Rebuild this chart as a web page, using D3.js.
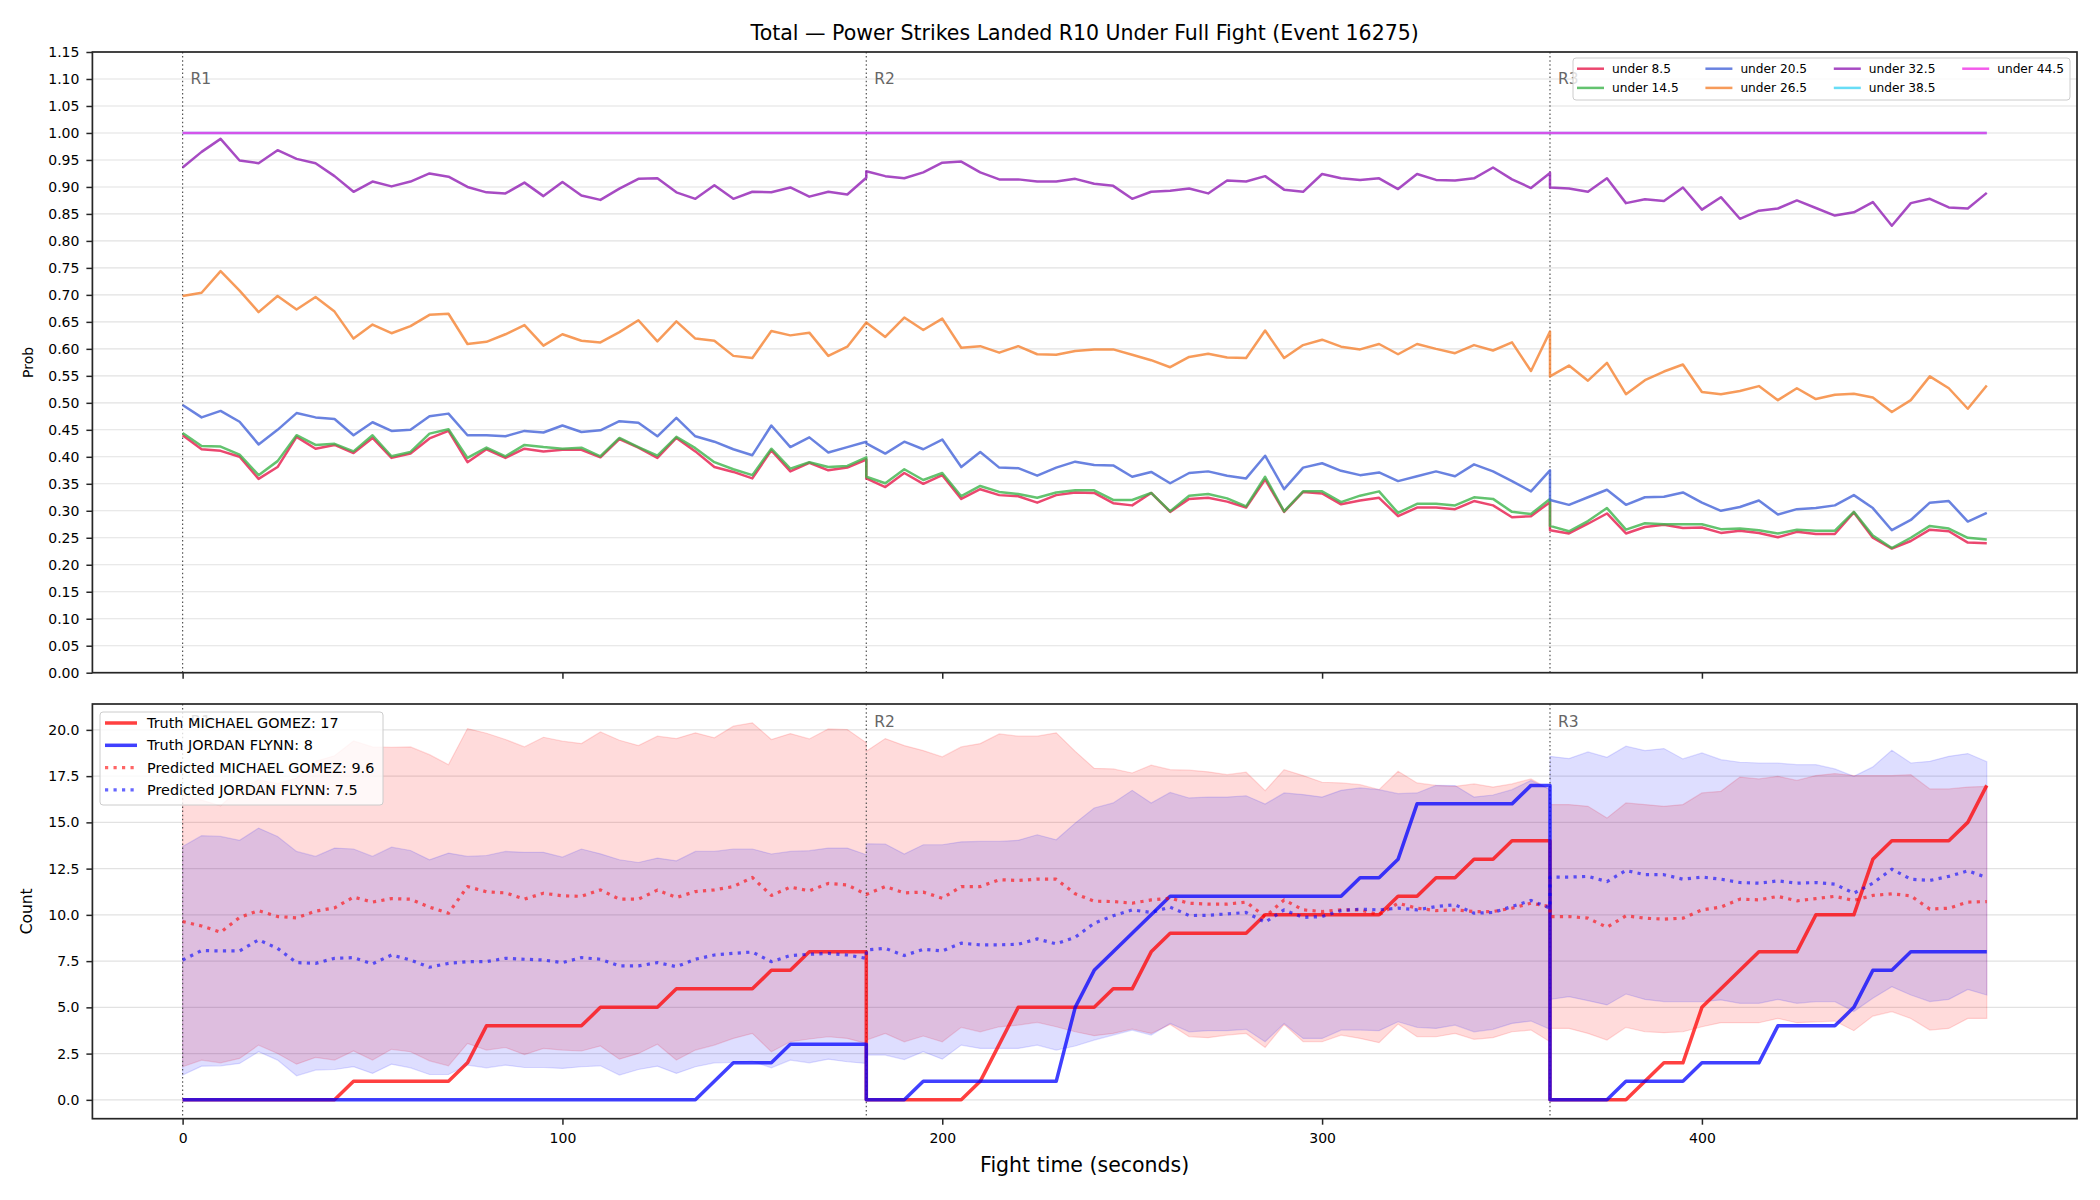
<!DOCTYPE html>
<html>
<head>
<meta charset="utf-8">
<script src="https://cdn.jsdelivr.net/npm/d3@7"></script>
<style>
  body { margin: 0; background: #fff; }
  svg text { font-family: "DejaVu Sans", sans-serif; }
</style>
</head>
<body>
<div class="chart"></div>
<script>
// fight time of every sample (each round restarts at its boundary, so 180 and 360 appear twice)
const times = [
  0,5,10,15,20,25,30,35,40,45,50,55,60,65,70,75,80,85,90,95,100,105,110,115,120,125,130,135,140,145,150,155,160,165,170,175,180,
  180,185,190,195,200,205,210,215,220,225,230,235,240,245,250,255,260,265,270,275,280,285,290,295,300,305,310,315,320,325,330,335,340,345,350,355,360,
  360,365,370,375,380,385,390,395,400,405,410,415,420,425,430,435,440,445,450,455,460,465,470,475
];

// top panel: probability of total under each line
const under85 = [
  0.440,0.414,0.411,0.400,0.359,0.381,0.437,0.415,0.422,0.407,0.435,0.398,0.406,0.434,0.448,0.390,0.414,0.398,0.415,0.410,0.413,0.413,0.399,0.433,0.417,0.398,0.435,0.410,0.381,0.372,0.360,0.412,0.373,0.389,0.375,0.380,0.395,
  0.360,0.344,0.370,0.350,0.366,0.322,0.340,0.329,0.327,0.315,0.329,0.334,0.333,0.314,0.310,0.333,0.298,0.322,0.324,0.317,0.306,0.358,0.298,0.335,0.332,0.312,0.319,0.324,0.290,0.306,0.306,0.303,0.318,0.310,0.288,0.290,0.316,
  0.264,0.258,0.276,0.295,0.258,0.270,0.274,0.268,0.269,0.259,0.263,0.259,0.251,0.261,0.257,0.257,0.297,0.250,0.230,0.244,0.265,0.262,0.241,0.240
];
const under145 = [
  0.444,0.420,0.419,0.404,0.366,0.392,0.440,0.422,0.424,0.410,0.440,0.401,0.409,0.443,0.451,0.398,0.417,0.401,0.422,0.418,0.415,0.417,0.401,0.435,0.418,0.402,0.437,0.416,0.390,0.377,0.366,0.415,0.378,0.390,0.381,0.383,0.399,
  0.363,0.351,0.377,0.357,0.370,0.327,0.346,0.335,0.331,0.324,0.334,0.338,0.338,0.320,0.320,0.333,0.299,0.328,0.331,0.323,0.308,0.363,0.299,0.336,0.336,0.316,0.328,0.336,0.296,0.313,0.313,0.310,0.325,0.322,0.298,0.294,0.322,
  0.272,0.262,0.281,0.305,0.265,0.277,0.275,0.275,0.275,0.266,0.267,0.264,0.258,0.265,0.263,0.263,0.298,0.254,0.231,0.250,0.272,0.267,0.250,0.247
];
const under205 = [
  0.496,0.473,0.485,0.465,0.423,0.450,0.481,0.473,0.470,0.440,0.464,0.448,0.450,0.475,0.480,0.440,0.440,0.438,0.448,0.445,0.458,0.446,0.449,0.466,0.463,0.438,0.472,0.438,0.428,0.414,0.403,0.458,0.418,0.436,0.408,0.418,0.428,
  0.425,0.406,0.428,0.414,0.432,0.381,0.409,0.380,0.379,0.365,0.380,0.391,0.385,0.384,0.363,0.372,0.351,0.370,0.373,0.365,0.360,0.402,0.340,0.380,0.388,0.374,0.366,0.371,0.355,0.364,0.373,0.364,0.386,0.373,0.355,0.336,0.375,
  0.320,0.311,0.325,0.339,0.311,0.325,0.326,0.334,0.315,0.300,0.307,0.319,0.293,0.303,0.305,0.310,0.329,0.305,0.264,0.283,0.315,0.318,0.280,0.296
];
const under265 = [
  0.698,0.704,0.744,0.708,0.668,0.698,0.673,0.696,0.669,0.619,0.645,0.629,0.642,0.663,0.665,0.609,0.613,0.627,0.644,0.606,0.627,0.615,0.612,0.631,0.653,0.614,0.651,0.619,0.615,0.587,0.583,0.633,0.625,0.630,0.587,0.604,0.649,
  0.649,0.622,0.658,0.635,0.656,0.602,0.605,0.593,0.605,0.590,0.589,0.596,0.599,0.599,0.589,0.579,0.566,0.585,0.591,0.584,0.583,0.634,0.583,0.607,0.617,0.604,0.599,0.609,0.590,0.609,0.600,0.592,0.607,0.597,0.612,0.559,0.632,
  0.549,0.569,0.541,0.574,0.516,0.542,0.558,0.571,0.520,0.516,0.522,0.531,0.505,0.527,0.507,0.515,0.517,0.510,0.483,0.505,0.549,0.527,0.489,0.532
];
const under325 = [
  0.936,0.965,0.989,0.949,0.944,0.968,0.952,0.944,0.920,0.891,0.910,0.901,0.910,0.925,0.919,0.900,0.890,0.888,0.908,0.883,0.909,0.884,0.876,0.897,0.915,0.916,0.890,0.878,0.903,0.878,0.891,0.890,0.899,0.882,0.891,0.886,0.917,
  0.929,0.920,0.916,0.927,0.945,0.947,0.927,0.914,0.914,0.910,0.910,0.915,0.906,0.902,0.878,0.891,0.893,0.897,0.888,0.912,0.910,0.920,0.895,0.891,0.924,0.916,0.913,0.916,0.896,0.924,0.913,0.912,0.916,0.936,0.914,0.898,0.926,
  0.899,0.897,0.891,0.916,0.870,0.877,0.874,0.899,0.858,0.881,0.841,0.856,0.860,0.875,0.861,0.847,0.853,0.872,0.828,0.870,0.878,0.862,0.860,0.889
];
const under385 = [
  1,1,1,1,1,1,1,1,1,1,1,1,1,1,1,1,1,1,1,1,1,1,1,1,1,1,1,1,1,1,1,1,1,1,1,1,1,
  1,1,1,1,1,1,1,1,1,1,1,1,1,1,1,1,1,1,1,1,1,1,1,1,1,1,1,1,1,1,1,1,1,1,1,1,1,
  1,1,1,1,1,1,1,1,1,1,1,1,1,1,1,1,1,1,1,1,1,1,1,1
];
const under445 = [
  1,1,1,1,1,1,1,1,1,1,1,1,1,1,1,1,1,1,1,1,1,1,1,1,1,1,1,1,1,1,1,1,1,1,1,1,1,
  1,1,1,1,1,1,1,1,1,1,1,1,1,1,1,1,1,1,1,1,1,1,1,1,1,1,1,1,1,1,1,1,1,1,1,1,1,
  1,1,1,1,1,1,1,1,1,1,1,1,1,1,1,1,1,1,1,1,1,1,1,1
];
const probNames = ["under 8.5", "under 14.5", "under 20.5", "under 26.5", "under 32.5", "under 38.5", "under 44.5"];

// bottom panel: counts per fighter
const truthGomez = [
  0,0,0,0,0,0,0,0,0,1,1,1,1,1,1,2,4,4,4,4,4,4,5,5,5,5,6,6,6,6,6,7,7,8,8,8,8,
  0,0,0,0,0,0,1,3,5,5,5,5,5,6,6,8,9,9,9,9,9,10,10,10,10,10,10,10,11,11,12,12,13,13,14,14,14,
  0,0,0,0,0,1,2,2,5,6,7,8,8,8,10,10,10,13,14,14,14,14,15,17
];
const truthFlynn = [
  0,0,0,0,0,0,0,0,0,0,0,0,0,0,0,0,0,0,0,0,0,0,0,0,0,0,0,0,1,2,2,2,3,3,3,3,3,
  0,0,0,1,1,1,1,1,1,1,1,5,7,8,9,10,11,11,11,11,11,11,11,11,11,11,12,12,13,16,16,16,16,16,16,17,17,
  0,0,0,0,1,1,1,1,2,2,2,2,4,4,4,4,5,7,7,8,8,8,8,8
];
const predGomez = [
  9.64,9.40,9.06,9.86,10.23,9.91,9.84,10.20,10.38,10.96,10.69,10.88,10.85,10.42,10.09,11.53,11.25,11.19,10.85,11.17,11.03,11.00,11.35,10.85,10.85,11.34,10.94,11.26,11.35,11.53,12.02,11.05,11.50,11.30,11.70,11.62,11.10,
  11.10,11.53,11.19,11.23,10.90,11.53,11.53,11.90,11.86,11.93,11.93,11.14,10.74,10.72,10.63,10.81,10.90,10.63,10.58,10.58,10.69,9.90,10.81,10.27,10.18,10.27,10.27,10.00,10.63,10.36,10.23,10.27,10.18,10.18,10.36,10.63,10.45,
  9.91,9.91,9.82,9.33,9.95,9.82,9.77,9.82,10.27,10.42,10.85,10.81,11.00,10.76,10.88,11.00,10.78,11.05,11.14,11.03,10.31,10.36,10.69,10.72
];
const predFlynn = [
  7.56,8.07,8.05,8.05,8.65,8.19,7.42,7.38,7.65,7.69,7.35,7.83,7.56,7.17,7.38,7.47,7.47,7.65,7.60,7.56,7.42,7.69,7.60,7.24,7.24,7.42,7.20,7.60,7.83,7.92,7.99,7.47,7.80,7.87,7.92,7.83,7.65,
  8.10,8.19,7.80,8.14,8.05,8.47,8.38,8.38,8.41,8.70,8.43,8.79,9.55,9.95,10.27,10.13,10.42,9.96,9.98,10.05,10.13,9.60,10.27,9.86,9.91,10.23,10.31,10.27,10.36,10.27,10.45,10.54,10.09,10.13,10.45,10.78,10.36,
  12.04,12.04,12.08,11.80,12.40,12.17,12.17,11.93,12.04,11.93,11.75,11.71,11.84,11.71,11.75,11.66,11.17,11.71,12.47,11.93,11.86,12.08,12.38,12.02
];
const gomezHigh = [
  16.5,16.2,15.9,16.8,17.3,17.1,17.4,18.3,18.6,19.4,19.08,19.06,19.08,18.66,18.12,20.07,19.82,19.48,19.08,19.60,19.39,19.26,19.89,19.44,19.15,19.66,19.53,19.84,19.57,20.20,20.38,19.48,19.80,19.51,20.05,20.02,19.30,
  18.84,19.53,19.15,18.88,18.54,19.08,19.26,19.78,19.66,19.66,19.84,18.84,17.92,17.89,17.67,18.09,17.85,17.82,17.73,17.58,17.71,16.71,17.85,17.53,17.17,17.13,17.04,16.77,17.76,17.13,17.00,16.95,17.08,16.91,17.08,17.35,16.77,
  15.96,15.96,15.87,15.23,16.05,15.96,15.87,15.96,16.59,16.68,17.45,17.35,17.49,17.27,17.53,17.64,17.53,17.53,17.53,17.58,16.81,16.81,16.91,16.95
];
const gomezLow = [
  1.79,2.15,2.00,2.24,2.96,2.51,1.93,2.29,2.15,2.64,2.15,2.73,2.60,2.11,1.84,3.05,2.69,2.83,2.45,2.78,2.69,2.64,2.91,2.20,2.51,3.01,2.15,2.69,2.96,3.32,3.59,2.60,3.14,3.29,3.41,3.32,3.05,
  3.23,3.59,3.14,3.45,3.14,3.92,3.68,3.95,4.04,4.19,3.95,3.68,3.47,3.59,3.83,3.59,4.08,3.41,3.36,3.50,3.59,2.83,4.08,3.14,3.14,3.50,3.32,3.09,4.10,3.41,3.41,3.59,3.27,3.36,3.68,3.77,3.14,
  3.86,3.86,3.59,3.23,3.92,3.68,3.63,3.68,3.95,4.17,4.17,4.17,4.40,4.17,4.22,4.26,3.74,4.53,4.77,4.40,3.77,3.86,4.40,4.40
];
const flynnHigh = [
  13.70,14.28,14.24,14.03,14.69,14.24,13.43,13.16,13.61,13.56,13.16,13.66,13.48,12.98,13.34,13.16,13.21,13.43,13.38,13.38,13.12,13.56,13.30,12.98,12.83,13.07,12.92,13.43,13.43,13.56,13.56,13.29,13.43,13.47,13.61,13.61,13.25,
  13.84,13.83,13.29,13.79,13.79,13.95,13.97,13.97,14.03,14.33,14.06,14.96,15.78,16.05,16.73,16.05,16.62,16.32,16.37,16.37,16.44,15.99,16.59,16.50,16.37,16.73,16.86,16.77,16.55,16.59,17.00,16.99,16.37,16.48,16.77,17.27,16.77,
  18.57,18.45,18.81,18.52,19.12,18.88,18.99,18.43,18.75,18.39,18.25,18.21,18.20,18.12,18.12,17.89,17.49,18.00,18.90,18.21,18.30,18.57,18.72,18.28
];
const flynnLow = [
  1.34,1.82,1.84,1.97,2.60,2.15,1.30,1.61,1.64,1.79,1.43,1.93,1.73,1.37,1.37,1.88,1.73,1.88,1.75,1.75,1.70,1.79,1.84,1.34,1.64,1.82,1.43,1.79,2.00,2.02,2.09,1.73,2.15,2.00,2.20,2.06,1.97,
  2.42,2.42,2.18,2.60,2.20,2.96,2.78,2.78,2.78,2.96,2.69,2.91,3.23,3.50,3.77,3.50,4.13,3.68,3.74,3.74,3.81,3.14,4.13,3.32,3.32,3.77,3.77,3.74,4.22,3.92,3.86,4.04,3.68,3.81,4.13,4.26,3.81,
  5.43,5.58,5.36,5.13,5.72,5.43,5.31,5.31,5.31,5.40,5.22,5.22,5.43,5.22,5.31,5.31,4.77,5.49,6.12,5.67,5.31,5.43,5.97,5.67
];

const rounds = ["R1", "R2", "R3"];
const roundStarts = [0, 180, 360];
const timeTicks = [0, 100, 200, 300, 400];
const probTicks = [0, 0.05, 0.1, 0.15, 0.2, 0.25, 0.3, 0.35, 0.4, 0.45, 0.5, 0.55, 0.6, 0.65, 0.7, 0.75, 0.8, 0.85, 0.9, 0.95, 1.0, 1.05, 1.1, 1.15];
const countTicks = [0, 2.5, 5, 7.5, 10, 12.5, 15, 17.5, 20];
const countLegend = ["Truth MICHAEL GOMEZ: 17", "Truth JORDAN FLYNN: 8", "Predicted MICHAEL GOMEZ: 9.6", "Predicted JORDAN FLYNN: 7.5"];

const width = 2100, height = 1200;
const left = 92.4, right = 2077;
const topBox = {y0: 52, y1: 672.7};
const botBox = {y0: 704, y1: 1118.7};
const ink = "#262626";

const svg = d3.select(".chart").append("svg")
  .attr("width", width).attr("height", height)
  .style("background", "#fff");

// shared x scale with matplotlib style 5% margins
const tExt = d3.extent(times);
const tPad = (tExt[1] - tExt[0]) * 0.05;
const x = d3.scaleLinear().domain([tExt[0] - tPad, tExt[1] + tPad]).range([left, right]);

const yProb = d3.scaleLinear().domain([0, 1.15]).range([topBox.y1, topBox.y0]);

const cMin = d3.min([truthGomez, truthFlynn, gomezLow, flynnLow].flat());
const cMax = d3.max([gomezHigh, flynnHigh, truthGomez, truthFlynn].flat());
const cPad = (cMax - cMin) * 0.05;
const yCount = d3.scaleLinear().domain([cMin - cPad, cMax + cPad]).range([botBox.y1, botBox.y0]);

function grid(g, y, ticks){
  g.append("g").selectAll("line").data(ticks).join("line")
    .attr("x1", left).attr("x2", right)
    .attr("y1", d => y(d)).attr("y2", d => y(d))
    .attr("stroke", "#e2e2e2").attr("stroke-width", 1.1);
}

function roundLines(g, box, y){
  g.append("g").selectAll("line").data(roundStarts).join("line")
    .attr("x1", d => x(d)).attr("x2", d => x(d))
    .attr("y1", box.y0).attr("y2", box.y1)
    .attr("stroke", "#555").attr("stroke-width", 1.2)
    .attr("stroke-dasharray", "1.5,2.6");
}

function roundLabels(g, box, y){
  const yv = y.domain()[1] - (y.domain()[1] - y.domain()[0]) * 0.044;
  g.append("g").selectAll("text").data(rounds).join("text")
    .attr("x", (d, i) => x(roundStarts[i]) + 8)
    .attr("y", y(yv))
    .attr("dominant-baseline", "central")
    .attr("font-size", "15.5px")
    .attr("fill", "#666")
    .text(d => d);
}

function axes(g, box, y, ticks, fmt, showX){
  const ya = g.append("g").attr("transform", `translate(${left},0)`)
    .call(d3.axisLeft(y).tickValues(ticks).tickFormat(fmt).tickSize(6).tickPadding(7));
  const xa = g.append("g").attr("transform", `translate(0,${box.y1})`)
    .call(d3.axisBottom(x).tickValues(timeTicks).tickFormat(showX ? d3.format("d") : () => "").tickSize(6).tickPadding(8));
  [ya, xa].forEach(a => {
    a.select(".domain").remove();
    a.selectAll(".tick line").attr("stroke", ink).attr("stroke-width", 1.5);
    a.selectAll(".tick text").attr("fill", "#000").attr("font-size", "14px")
      .style("font-family", "DejaVu Sans");
  });
  g.append("rect").attr("x", left).attr("y", box.y0)
    .attr("width", right - left).attr("height", box.y1 - box.y0)
    .attr("fill", "none").attr("stroke", ink).attr("stroke-width", 1.7);
}

// ---------- top panel ----------
const probColors = d3.scaleOrdinal().domain(probNames)
  .range(["#e6194b", "#3cb44b", "#4363d8", "#f58231", "#911eb4", "#42d4f4", "#f032e6"]);
const probSeries = [under85, under145, under205, under265, under325, under385, under445];

const gTop = svg.append("g");
grid(gTop, yProb, probTicks);
roundLines(gTop, topBox, yProb);

const probLine = d3.line().x((d, i) => x(times[i])).y(d => yProb(d));
gTop.append("g").selectAll("path").data(probSeries).join("path")
  .attr("d", probLine)
  .attr("fill", "none")
  .attr("stroke", (d, i) => probColors(probNames[i]))
  .attr("stroke-opacity", 0.8)
  .attr("stroke-width", 2.5)
  .attr("stroke-linejoin", "round");

roundLabels(gTop, topBox, yProb);
axes(gTop, topBox, yProb, probTicks, d3.format(".2f"), false);

// legend top right, 4 columns
const lgTop = gTop.append("g");
lgTop.append("rect").attr("x", 1573).attr("y", 58).attr("width", 497).attr("height", 42)
  .attr("rx", 3).attr("fill", "#fff").attr("fill-opacity", 0.8)
  .attr("stroke", "#cccccc").attr("stroke-width", 1);
probNames.forEach((name, i) => {
  const col = Math.floor(i / 2), row = i % 2;
  const lx = 1577 + col * 128.4, ly = 68.7 + row * 19.2;
  lgTop.append("line").attr("x1", lx).attr("x2", lx + 27).attr("y1", ly).attr("y2", ly)
    .attr("stroke", probColors(name)).attr("stroke-opacity", 0.8).attr("stroke-width", 2.5);
  lgTop.append("text").attr("x", lx + 35).attr("y", ly).attr("dominant-baseline", "central")
    .attr("font-size", "12.2px").attr("fill", "#000").text(name);
});

// ---------- bottom panel ----------
const gBot = svg.append("g");
grid(gBot, yCount, countTicks);

const band = (lo, hi) => d3.area().x((d, i) => x(times[i])).y0((d, i) => yCount(lo[i])).y1((d, i) => yCount(hi[i]))(times);
const bands = [
  {lo: gomezLow, hi: gomezHigh, color: "red", op: 0.14},
  {lo: flynnLow, hi: flynnHigh, color: "blue", op: 0.13}
];
gBot.append("g").selectAll("path").data(bands).join("path")
  .attr("d", d => band(d.lo, d.hi))
  .attr("fill", d => d.color).attr("fill-opacity", d => d.op)
  .attr("stroke", d => d.color).attr("stroke-opacity", d => d.op).attr("stroke-width", 1.2);

roundLines(gBot, botBox, yCount);

const countLine = d3.line().x((d, i) => x(times[i])).y(d => yCount(d));
const countSeries = [
  {v: truthGomez, color: "red", op: 0.75, w: 3.5, dash: null},
  {v: truthFlynn, color: "blue", op: 0.75, w: 3.5, dash: null},
  {v: predGomez, color: "red", op: 0.6, w: 3.2, dash: "3.2,5.3"},
  {v: predFlynn, color: "blue", op: 0.6, w: 3.2, dash: "3.2,5.3"}
];
gBot.append("g").selectAll("path").data(countSeries).join("path")
  .attr("d", d => countLine(d.v))
  .attr("fill", "none")
  .attr("stroke", d => d.color).attr("stroke-opacity", d => d.op)
  .attr("stroke-width", d => d.w)
  .attr("stroke-dasharray", d => d.dash)
  .attr("stroke-linejoin", "round");

roundLabels(gBot, botBox, yCount);
axes(gBot, botBox, yCount, countTicks, d3.format(".1f"), true);

// legend upper left (drawn over the faint R1 label, as in the source)
const lgBot = gBot.append("g");
lgBot.append("rect").attr("x", 100).attr("y", 712).attr("width", 283).attr("height", 93)
  .attr("rx", 3).attr("fill", "#fff").attr("fill-opacity", 0.8)
  .attr("stroke", "#cccccc").attr("stroke-width", 1);
countSeries.forEach((s, i) => {
  const ly = 723 + i * 22.3;
  lgBot.append("line").attr("x1", 105).attr("x2", 137).attr("y1", ly).attr("y2", ly)
    .attr("stroke", s.color).attr("stroke-opacity", s.op).attr("stroke-width", s.w)
    .attr("stroke-dasharray", s.dash);
  lgBot.append("text").attr("x", 147).attr("y", ly).attr("dominant-baseline", "central")
    .attr("font-size", "14.4px").attr("fill", "#000").text(countLegend[i]);
});

// titles and axis labels
svg.append("text").attr("x", (left + right) / 2).attr("y", 39.5).attr("text-anchor", "middle")
  .attr("font-size", "20.5px").attr("fill", "#000")
  .text("Total — Power Strikes Landed R10 Under Full Fight (Event 16275)");
svg.append("text").attr("x", (left + right) / 2).attr("y", 1172).attr("text-anchor", "middle")
  .attr("font-size", "20.5px").attr("fill", "#000").text("Fight time (seconds)");
svg.append("text").attr("transform", `translate(28,${(topBox.y0 + topBox.y1) / 2}) rotate(-90)`)
  .attr("text-anchor", "middle").attr("dominant-baseline", "central")
  .attr("font-size", "14px").attr("fill", "#000").text("Prob");
svg.append("text").attr("transform", `translate(27,${(botBox.y0 + botBox.y1) / 2}) rotate(-90)`)
  .attr("text-anchor", "middle").attr("dominant-baseline", "central")
  .attr("font-size", "15.5px").attr("fill", "#000").text("Count");
</script>
</body>
</html>
